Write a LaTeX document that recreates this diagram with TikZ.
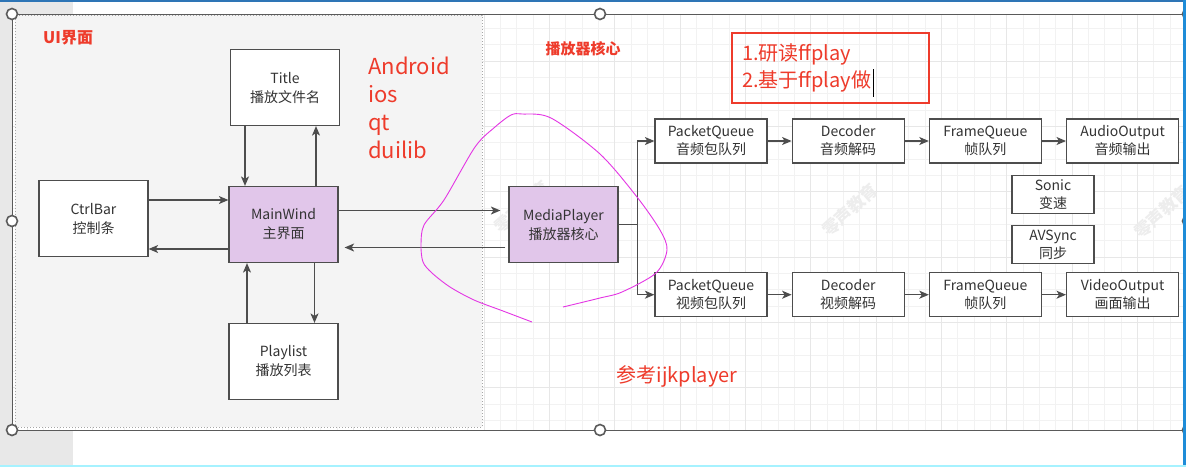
\documentclass[tikz,border=0pt]{standalone}
\usepackage{fontspec}
\setmainfont{Noto Sans CJK SC}
\usetikzlibrary{positioning,arrows.meta,calc}

\definecolor{boxline}{HTML}{4D4D4D}
\definecolor{boxtext}{HTML}{333333}
\definecolor{lilac}{HTML}{E1C6EA}
\definecolor{notered}{HTML}{EE3B2B}
\definecolor{uigray}{HTML}{F4F4F4}
\definecolor{gridminor}{HTML}{F2F2F2}
\definecolor{gridmajor}{HTML}{E7E7E7}
\definecolor{pen}{HTML}{E435E4}
\definecolor{stripgray}{HTML}{E8E8E8}
\definecolor{handlegray}{HTML}{5A5A5A}
\definecolor{markgray}{HTML}{EDEDED}
\definecolor{framedark}{HTML}{2E75B6}
\definecolor{frameblue}{HTML}{1E8CD8}
\definecolor{framecyan}{HTML}{A6F2FF}

\begin{document}
\begin{tikzpicture}[x=1pt,y=-1pt,
  qbox/.style={draw=boxline,line width=1.2pt,fill=white,text=boxtext,align=center,inner sep=0pt,
    minimum width=112pt,minimum height=44pt,font=\fontsize{14}{18}\selectfont},
  bigbox/.style={qbox,minimum width=109pt,minimum height=76pt,font=\fontsize{14}{19}\selectfont},
  smallbox/.style={qbox,minimum width=82pt,minimum height=38pt},
  core/.style={fill=lilac},
  arr/.style={draw=boxline,line width=1.2pt,-{Stealth[length=9.5pt,width=8pt,inset=2.5pt]}},
  link/.style={draw=boxline,line width=1.2pt},
  redtext/.style={text=notered,inner sep=0pt},
  uigroup/.style={draw=gray!70,dotted,line width=1pt,fill=uigray,minimum width=467pt,minimum height=412pt},
  handle/.style={circle,draw=handlegray,line width=1.6pt,fill=white,minimum size=11pt,inner sep=0pt},
  watermark/.style={text=markgray,font=\fontsize{17}{17}\selectfont\bfseries,rotate=42},
  gridthin/.style={draw=gridminor,line width=0.8pt},
  gridthick/.style={draw=gridmajor,line width=0.8pt}]
\useasboundingbox (0,0) rectangle (1186,467);

% canvas and grid
\fill[white] (0,0) rectangle (1186,467);
\fill[stripgray] (0,0) rectangle (73,467);
\fill[white] (12,14) rectangle (1186,430);
\foreach \i in {1,...,71} \draw[gridthin] ({10.57+16.33*\i},14) -- ({10.57+16.33*\i},430);
\foreach \j in {1,...,25} \draw[gridthin] (12,{12.2+16.33*\j}) -- (1186,{12.2+16.33*\j});
\foreach \k in {0,...,17} \draw[gridthick] ({26.9+65.32*\k},14) -- ({26.9+65.32*\k},430);
\foreach \k in {0,...,5} \draw[gridthick] (12,{61.2+65.32*\k}) -- (1186,{61.2+65.32*\k});

\node[watermark] (wm1) at (522,207) {零声教育};
\node[watermark] (wm2) at (850,210) {零声教育};
\node[watermark] (wm3) at (1162,212) {零声教育};

% UI part
\node[uigroup] (ui) at (248.5,221) {};
\node[redtext,anchor=west,font=\fontsize{16}{16}\selectfont\bfseries] (uititle) at (43,38) {UI界面};
\node[bigbox] (ti) at (285,87.5) {Title\\播放文件名};
\node[bigbox] (cb) at (93.5,218.5) {CtrlBar\\控制条};
\node[bigbox,core] (mw) at (283.5,224.5) {MainWind\\主界面};
\node[bigbox] (pl) at (283.5,361.5) {Playlist\\播放列表};
\node[redtext,anchor=north west,align=left,font=\fontsize{22}{28}\selectfont] (os) at (368,57) {Android\\ios\\qt\\duilib};

% player core
\node[redtext,font=\fontsize{15}{15}\selectfont\bfseries] (coretitle) at (583,49) {播放器核心};
\node[bigbox,core] (mp) at (563.5,224.5) {MediaPlayer\\播放器核心};
\node[draw=notered,line width=2pt,text=notered,align=left,text width=177pt,inner xsep=10pt,inner ysep=0pt,
  minimum height=70pt,font=\fontsize{20}{27}\selectfont] (note) at (830.5,68) {1.研读ffplay\\2.基于ffplay做};
\node[redtext,font=\fontsize{20}{20}\selectfont] (ref) at (677,376) {参考ijkplayer};

\node[qbox] (pqa) at (711,141) {PacketQueue\\音频包队列};
\node[qbox] (dca) [right=24pt of pqa] {Decoder\\音频解码};
\node[qbox] (fqa) [right=24pt of dca] {FrameQueue\\帧队列};
\node[qbox] (aoa) [right=24pt of fqa] {AudioOutput\\音频输出};
\node[qbox] (pqv) [below=108.5pt of pqa] {PacketQueue\\视频包队列};
\node[qbox] (dcv) [right=24pt of pqv] {Decoder\\视频解码};
\node[qbox] (fqv) [right=24pt of dcv] {FrameQueue\\帧队列};
\node[qbox] (vov) [right=24pt of fqv] {VideoOutput\\画面输出};
\node[smallbox] (sonic) at (1053,194.5) {Sonic\\变速};
\node[smallbox] (sync) [below=11pt of sonic] {AVSync\\同步};

% connectors
\draw[arr] ([xshift=-40pt]ti.south) -- ([xshift=-40pt]ti.south |- mw.north);
\draw[arr] ([xshift=31pt]ti.south |- mw.north) -- ([xshift=31pt]ti.south);
\draw[arr] ([xshift=-36.5pt]mw.south |- pl.north) -- ([xshift=-36.5pt]mw.south);
\draw[arr] ([xshift=31pt]mw.south) -- ([xshift=31pt]mw.south |- pl.north);
\draw[arr] ([yshift=18.5pt]cb.east) -- ([yshift=18.5pt]cb.east -| mw.west);
\draw[arr] ([yshift=-24.5pt]mw.west) -- ([yshift=-24.5pt]mw.west -| cb.east);
\draw[arr,shorten >=8pt] ([yshift=14pt]mw.east) -- ([yshift=14pt]mw.east -| mp.west);
\draw[arr,shorten <=3pt,shorten >=6pt] ([yshift=-23pt]mp.west) -- ([yshift=-23pt]mp.west -| mw.east);
\coordinate (fork) at ($(mp.east)+(18.5,0)$);
\draw[link] (mp.east) -- (fork);
\draw[arr] (fork) |- (pqa);
\draw[arr] (fork) |- (pqv);
\path (pqa) edge[arr] (dca)
      (dca) edge[arr] (fqa)
      (fqa) edge[arr] (aoa)
      (pqv) edge[arr] (dcv)
      (dcv) edge[arr] (fqv)
      (fqv) edge[arr] (vov);

% freehand mark round the core
\draw[pen,line width=0.9pt] plot[smooth] coordinates {(532,322) (503,311) (474,300) (450,287) (432,273)
  (423,262) (421,245) (424,225) (444,200) (475,147) (495,127) (511,115) (522,114) (551,118) (600,154)
  (637,197) (660,230) (667,250) (656,273) (622,292) (600,298) (563,307)};
\draw[black,line width=0.8pt] (873,69) -- (873,97);

% selection frame
\draw[handlegray,line width=1pt] (12,14) rectangle (1188,430);
\foreach \hx/\hy [count=\n] in {12/14,600/14,1188/14,12/221,1188/221,12/430,600/430,1188/430}
  \node[handle] (h\n) at (\hx,\hy) {};

% window frame
\fill[framedark] (0,0) rectangle (1186,2);
\fill[frameblue] (1183,0) rectangle (1186,467);
\fill[framecyan] (0,465) rectangle (1186,467);
\end{tikzpicture}
\end{document}
